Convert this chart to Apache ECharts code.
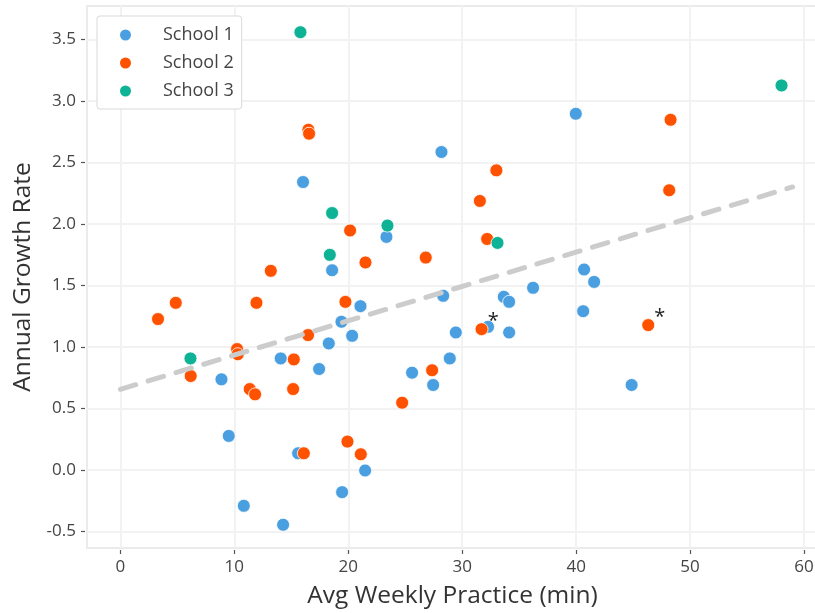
<!DOCTYPE html>
<html>
<head>
<meta charset="utf-8">
<script src="https://cdn.jsdelivr.net/npm/echarts@6/dist/echarts.min.js"></script>
<style>html,body{margin:0;padding:0;background:#fff;}#chart{width:815px;height:613px;}</style>
</head>
<body>
<div id="chart"></div>
<script>
const seriesNames = ['School 1', 'School 2', 'School 3'];
const school1 = [
  [8.87,0.736],[9.51,0.276],[10.83,-0.292],[14.07,0.906],[14.28,-0.446],[15.6,0.135],[16.03,2.34],
  [17.44,0.82],[18.29,1.028],[18.58,1.623],[19.4,1.204],[19.46,-0.181],[20.34,1.09],[21.07,1.331],
  [21.48,-0.005],[23.35,1.894],[25.6,0.79],[27.45,0.69],[28.18,2.584],[28.33,1.415],[28.91,0.906],
  [29.44,1.117],[32.27,1.163],[33.65,1.407],[34.12,1.366],[34.12,1.117],[36.22,1.48],[39.97,2.895],
  [40.62,1.29],[40.7,1.629],[41.58,1.528],[44.87,0.69]
];
const school2 = [
  [3.3,1.226],[4.86,1.358],[6.17,0.763],[10.24,0.982],[10.3,0.94],[11.35,0.657],[11.82,0.614],
  [11.94,1.358],[13.2,1.618],[15.22,0.898],[15.16,0.657],[16.1,0.135],[16.47,1.096],[16.5,2.765],
  [16.56,2.733],[19.75,1.366],[19.93,0.23],[20.16,1.946],[21.1,0.127],[21.51,1.686],[24.73,0.546],
  [26.8,1.726],[27.36,0.81],[31.55,2.186],[31.7,1.144],[32.19,1.877],[33.0,2.435],[46.33,1.177],
  [48.17,2.273],[48.29,2.846]
];
const school3 = [
  [6.15,0.906],[15.8,3.558],[18.38,1.748],[18.58,2.088],[23.44,1.986],[33.1,1.845],[58.03,3.125]
];
const starredSchool2 = [24, 27];
const trendX = [0, 59];
const trendY = [0.655, 2.30];
const xTicks = [0, 10, 20, 30, 40, 50, 60];
const yTicks = [-0.5, 0, 0.5, 1.0, 1.5, 2.0, 2.5, 3.0, 3.5];
const colors = ['#4A9FE0', '#FF5200', '#0DB394'];

const FONT = 'Open Sans';
const chart = echarts.init(document.getElementById('chart'), null, {renderer: 'canvas'});

const school2Data = school2.map((p, i) => starredSchool2.includes(i) ? {
  value: p,
  label: {show: true, formatter: '*', position: [18.5, -1], align: 'center', verticalAlign: 'middle',
          fontSize: 20, color: '#222', fontFamily: FONT}
} : p);

function scatter(name, data, color) {
  return {
    name, type: 'scatter', data, symbolSize: 13, z: 2,
    itemStyle: {color, opacity: 1, borderColor: '#fff', borderWidth: 0.8},
    emphasis: {disabled: true}
  };
}

chart.setOption({
  animation: false,
  color: colors,
  textStyle: {fontFamily: FONT},
  grid: {left: 87, top: 6, right: -3, bottom: 65, show: true, borderColor: '#ebebeb', borderWidth: 2,
         containLabel: false, outerBoundsMode: 'none'},
  legend: {
    data: seriesNames.map(n => ({name: n, icon: 'circle'})),
    orient: 'vertical', left: 97, top: 16,
    itemWidth: 13, itemHeight: 13, itemGap: 10,
    padding: [10, 8, 9, 21],
    backgroundColor: '#fff', borderColor: '#d9d9d9', borderWidth: 1, borderRadius: 3,
    textStyle: {fontSize: 18, color: '#444', fontFamily: FONT, padding: [0, 0, 0, 26]}
  },
  xAxis: {
    type: 'value', min: -2.933, max: 61.23, minInterval: 10, maxInterval: 10, offset: 2,
    name: 'Avg Weekly Practice (min)', nameLocation: 'middle', nameGap: 34,
    nameTextStyle: {fontSize: 24.5, color: '#333', fontFamily: FONT},
    axisLine: {show: false, onZero: false},
    axisTick: {show: true, length: 4, customValues: xTicks, lineStyle: {color: '#555', width: 1.2}},
    axisLabel: {customValues: xTicks, margin: 9, fontSize: 17, color: '#444', fontFamily: FONT,
                formatter: v => String(v)},
    splitLine: {show: true, lineStyle: {color: '#f2f2f2', width: 2}}
  },
  yAxis: {
    type: 'value', min: -0.635, max: 3.771, minInterval: 0.5, maxInterval: 0.5, offset: 2,
    name: 'Annual Growth Rate', nameLocation: 'middle', nameGap: 49,
    nameTextStyle: {fontSize: 24.5, color: '#333', fontFamily: FONT},
    axisLine: {show: false, onZero: false},
    axisTick: {show: true, length: 4, customValues: yTicks, lineStyle: {color: '#555', width: 1.2}},
    axisLabel: {customValues: yTicks, margin: 9, fontSize: 17, color: '#444', fontFamily: FONT,
                formatter: v => v.toFixed(1)},
    splitLine: {show: true, lineStyle: {color: '#f2f2f2', width: 2}}
  },
  series: [
    scatter(seriesNames[0], school1, colors[0]),
    scatter(seriesNames[1], school2Data, colors[1]),
    scatter(seriesNames[2], school3, colors[2]),
    {
      name: 'trend', type: 'line', data: trendX.map((x, i) => [x, trendY[i]]),
      symbol: 'none', z: 3, silent: true,
      lineStyle: {color: '#cccccc', width: 5, type: [16, 13], cap: 'round'}
    }
  ]
});
</script>
</body>
</html>
